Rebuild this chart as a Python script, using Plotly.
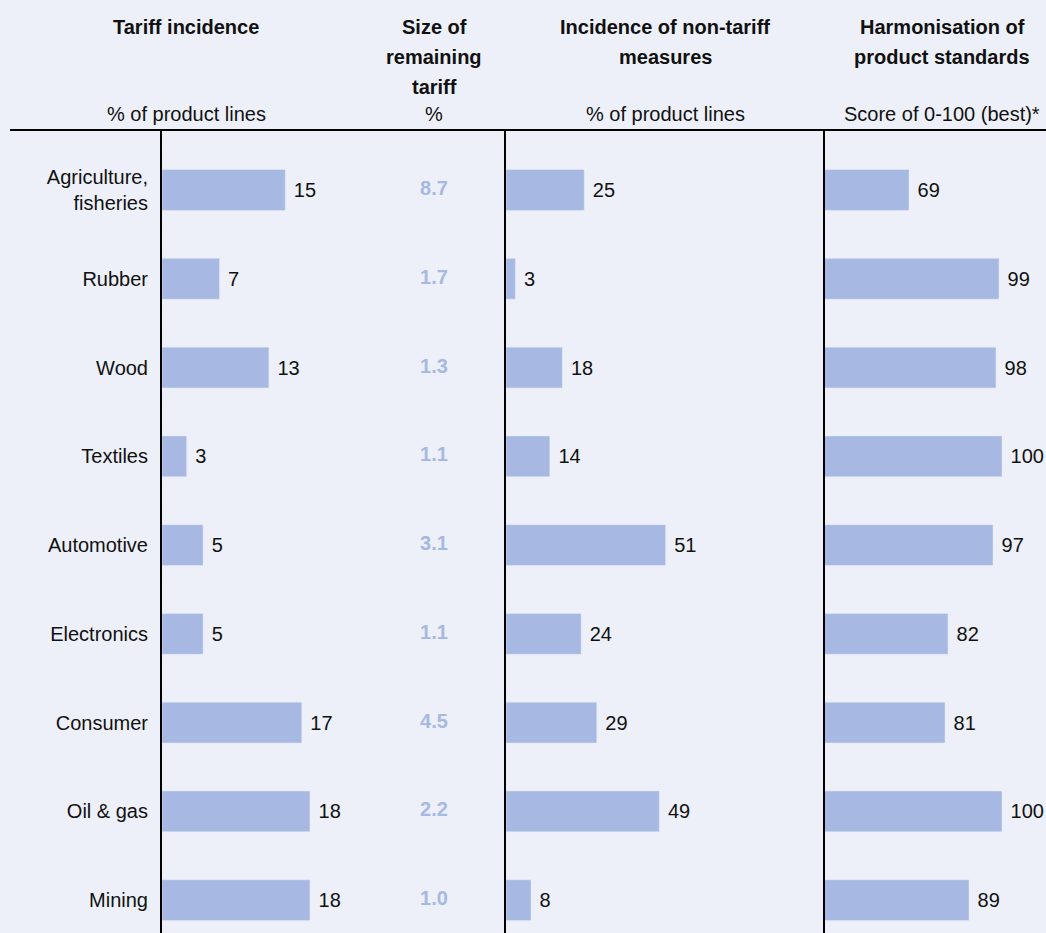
import plotly.graph_objects as go

W, H = 1046, 933

categories = ["Agriculture,<br>fisheries", "Rubber", "Wood", "Textiles", "Automotive",
              "Electronics", "Consumer", "Oil & gas", "Mining"]
tariff_incidence = [15, 7, 13, 3, 5, 5, 17, 18, 18]
remaining_tariff = [8.7, 1.7, 1.3, 1.1, 3.1, 1.1, 4.5, 2.2, 1.0]
non_tariff = [25, 3, 18, 14, 51, 24, 29, 49, 8]
harmonisation = [69, 99, 98, 100, 97, 82, 81, 100, 89]

panel_titles = [["Tariff incidence"], ["Size of", "remaining", "tariff"],
                ["Incidence of non-tariff", "measures"], ["Harmonisation of", "product standards"]]
panel_units = ["% of product lines", "%", "% of product lines", "Score of 0-100 (best)*"]

BG = "#EDF0F8"
BAR = "#A7B8E2"
FONT = "Liberation Sans, Arial, sans-serif"

def px(x):
    return x / W

def py(y):
    return 1 - y / H

fig = go.Figure()

bar_kw = dict(orientation="h", marker_color=BAR, width=0.46, textposition="outside",
              constraintext="none", cliponaxis=False,
              outsidetextfont=dict(family=FONT, size=20, color="#111111"),
              hoverinfo="skip", showlegend=False)

def lab(vals):
    return ["\u00a0" + str(v) for v in vals]

fig.add_trace(go.Bar(x=tariff_incidence, y=categories, text=lab(tariff_incidence),
                     xaxis="x", yaxis="y", **bar_kw))
fig.add_trace(go.Bar(x=non_tariff, y=categories, text=lab(non_tariff),
                     xaxis="x2", yaxis="y2", **bar_kw))
fig.add_trace(go.Bar(x=harmonisation, y=categories, text=lab(harmonisation),
                     xaxis="x3", yaxis="y3", **bar_kw))
fig.add_trace(go.Scatter(x=["size"] * len(categories), y=categories, mode="text",
                         text=[f"{v:.1f}" for v in remaining_tariff], cliponaxis=False,
                         textfont=dict(family=FONT, size=20, color=BAR, weight="bold"),
                         xaxis="x4", yaxis="y4", hoverinfo="skip", showlegend=False))

ydom = [0, py(130)]
yrange = [8.37, -0.676]
hidden_x = dict(showgrid=False, zeroline=False, showticklabels=False, ticks="", showline=False)
line_y = dict(domain=ydom, range=yrange, type="category", showgrid=False, zeroline=False,
              showline=True, linecolor="#000000", linewidth=2)

fig.update_layout(
    width=W, height=H, margin=dict(l=0, r=0, t=0, b=0),
    paper_bgcolor=BG, plot_bgcolor="rgba(0,0,0,0)",
    font=dict(family=FONT, size=20, color="#111111"),
    xaxis=dict(domain=[px(162), px(400)], range=[0, 238 / 8.22], anchor="y", **hidden_x),
    xaxis2=dict(domain=[px(506), px(823)], range=[0, 317 / 3.13], anchor="y2", **hidden_x),
    xaxis3=dict(domain=[px(825), 1], range=[41, 41 + 221 / 3.0], anchor="y3", **hidden_x),
    xaxis4=dict(domain=[px(404), px(464)], anchor="y4", type="category", **hidden_x),
    yaxis=dict(anchor="x", ticks="outside", ticklen=8, tickcolor="rgba(0,0,0,0)",
               tickfont=dict(family=FONT, size=20, color="#111111"), **line_y),
    yaxis2=dict(anchor="x2", matches="y", showticklabels=False, ticks="", **line_y),
    yaxis3=dict(anchor="x3", matches="y", showticklabels=False, ticks="", **line_y),
    yaxis4=dict(domain=ydom, range=yrange, type="category", anchor="x4", matches="y",
                showgrid=False, zeroline=False, showline=False, showticklabels=False, ticks=""),
)

fig.add_shape(type="line", xref="paper", yref="paper", x0=px(10), x1=1, y0=py(130), y1=py(130),
              line=dict(color="#000000", width=2))

title_centers = [186, 434, 665, 942]
line_ys = [27, 57, 87]
for cx, lines in zip(title_centers, panel_titles):
    for ly, t in zip(line_ys, lines):
        fig.add_annotation(text=f"<b>{t}</b>", xref="paper", yref="paper", x=px(cx), y=py(ly),
                           xanchor="center", yanchor="middle", showarrow=False,
                           font=dict(family=FONT, size=20, color="#111111"))
for cx, t in zip(title_centers, panel_units):
    fig.add_annotation(text=t, xref="paper", yref="paper", x=px(cx), y=py(114),
                       xanchor="center", yanchor="middle", showarrow=False,
                       font=dict(family=FONT, size=20, color="#111111"))

fig.write_html("out.html")
